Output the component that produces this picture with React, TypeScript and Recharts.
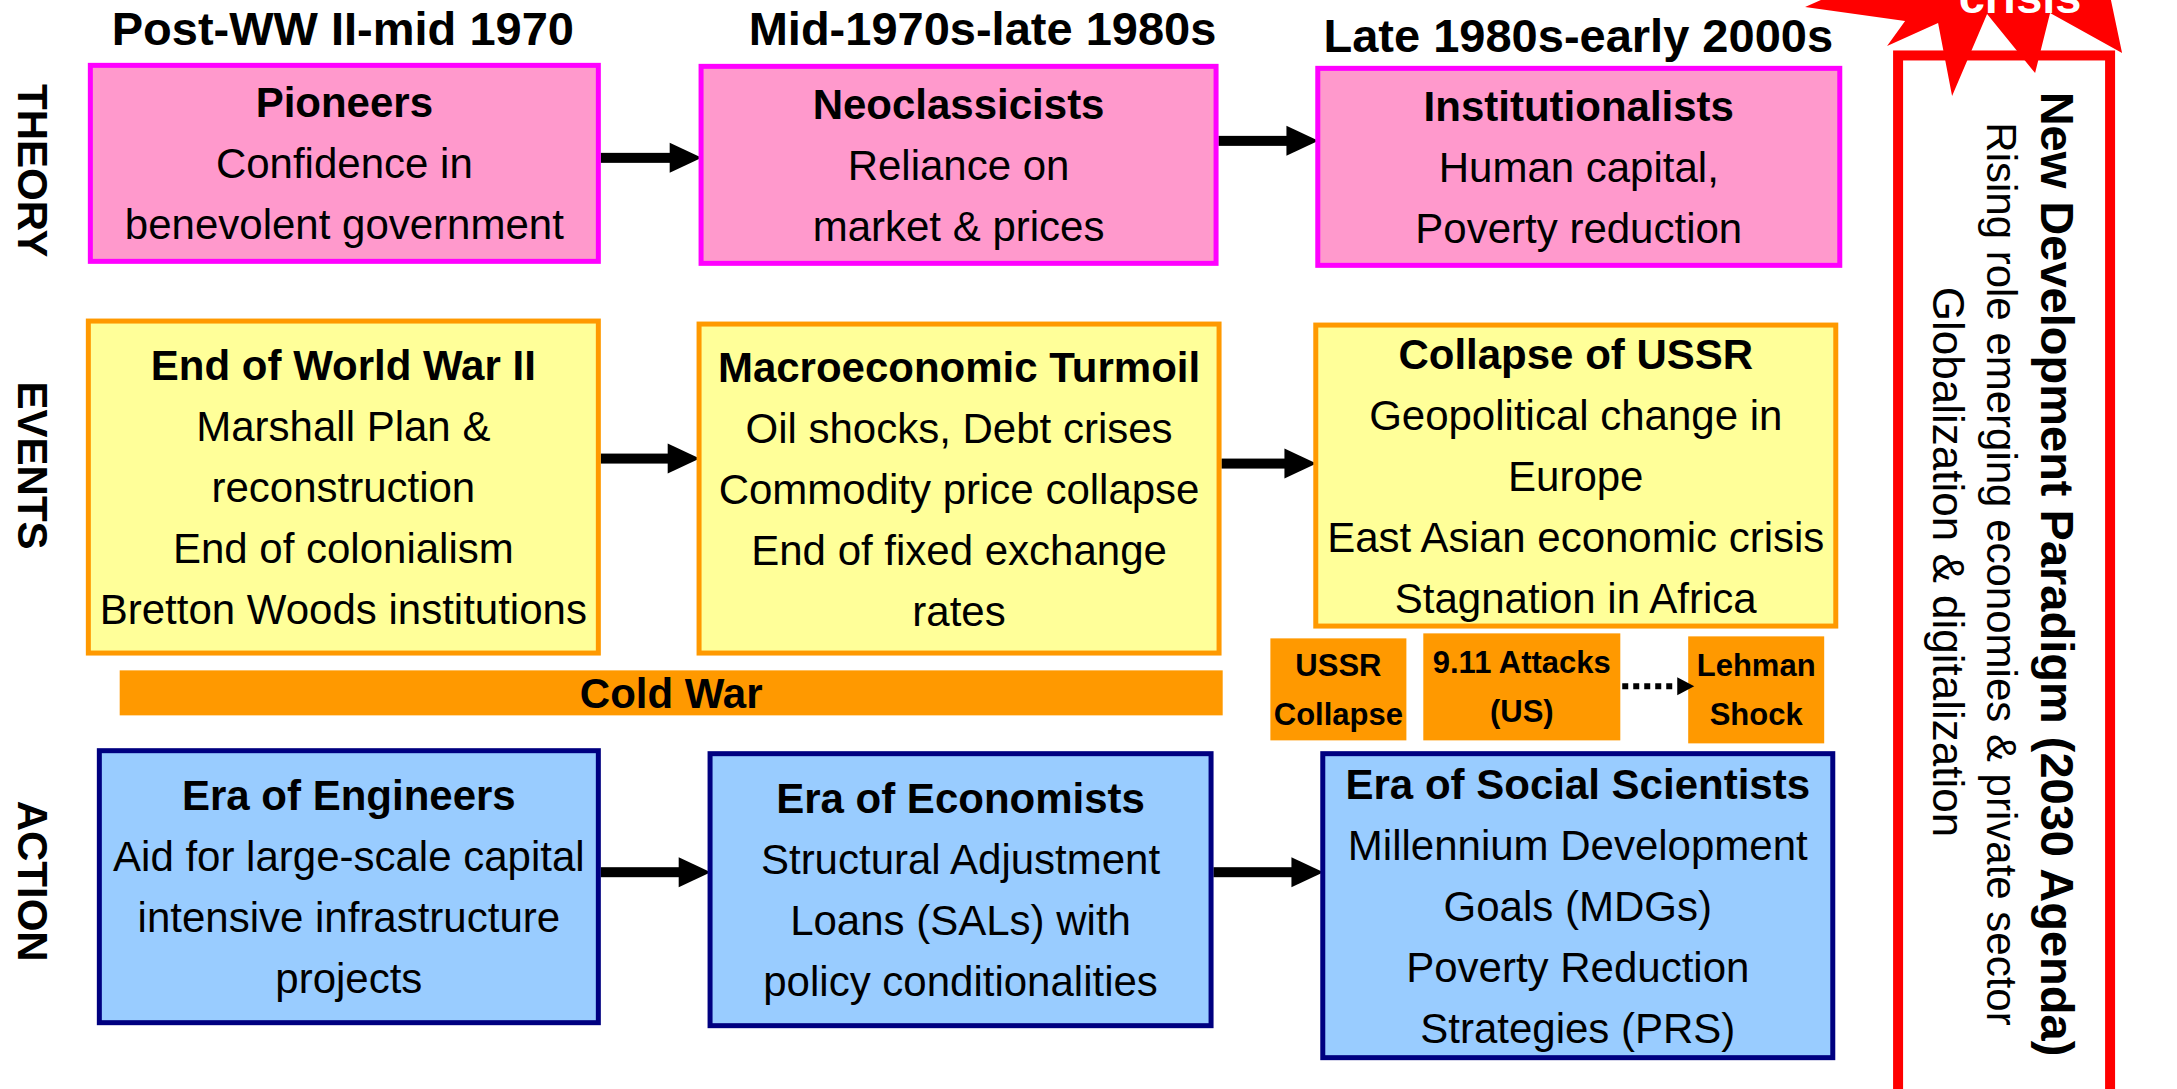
import React from "react";
import { ScatterChart, Scatter, XAxis, YAxis } from "recharts";

const W = 2177;
const H = 1089;
const FONT = "'Liberation Sans', Arial, Helvetica, sans-serif";

// ---- content ----
const periods = ["Post-WW II-mid 1970", "Mid-1970s-late 1980s", "Late 1980s-early 2000s"];
const rows = ["THEORY", "EVENTS", "ACTION"];

const theoryTitles = ["Pioneers", "Neoclassicists", "Institutionalists"];
const theoryLines = [
  ["Confidence in", "benevolent government"],
  ["Reliance on", "market & prices"],
  ["Human capital,", "Poverty reduction"],
];
const eventTitles = ["End of World War II", "Macroeconomic Turmoil", "Collapse of USSR"];
const eventLines = [
  ["Marshall Plan &", "reconstruction", "End of colonialism", "Bretton Woods institutions"],
  ["Oil shocks, Debt crises", "Commodity price collapse", "End of fixed exchange", "rates"],
  ["Geopolitical change in", "Europe", "East Asian economic crisis", "Stagnation in Africa"],
];
const actionTitles = ["Era of Engineers", "Era of Economists", "Era of Social Scientists"];
const actionLines = [
  ["Aid for large-scale capital", "intensive infrastructure", "projects"],
  ["Structural Adjustment", "Loans (SALs) with", "policy conditionalities"],
  ["Millennium Development", "Goals (MDGs)", "Poverty Reduction", "Strategies (PRS)"],
];
const shocks = [
  ["USSR", "Collapse"],
  ["9.11 Attacks", "(US)"],
  ["Lehman", "Shock"],
];
const coldWarLabel = "Cold War";
const paradigmTitle = "New Development Paradigm (2030 Agenda)";
const paradigmLines = ["Rising role emerging economies & private sector", "Globalization & digitalization"];
const crisisLabel = "crisis";

// ---- layout (the axes map this 2177 x 1089 frame about 1:1) ----
const titleX = [342, 982, 1578];
const titleBaseline = [45, 45, 52];
const rowLabelY = [170, 465, 881];
// [x0, x1, y0, y1] per row, per period
const boxRects = [
  [[87, 600, 62, 263], [698, 1218, 63, 265], [1315, 1842, 65, 267]],
  [[85, 600, 318, 655], [696, 1221, 321, 655], [1313, 1838, 322, 628]],
  [[96, 600, 748, 1025], [707, 1213, 751, 1028], [1320, 1835, 751, 1060]],
];
const arrowY = [[157, 140], [458, 463], [872, 872]];
const coldWarRect = [119, 1222, 670, 715];
const shockRects = [[1270, 1406, 638, 740], [1423, 1620, 633, 740], [1688, 1824, 636, 743]];
const shockArrowY = 686;
const frameRect = [1893, 2115, 50, 1120];
const paradigmBaseX = [2041, 1987, 1933];
const paradigmMidY = [574, 574, 562];
const starCenter = [2000, 40];
const starPoints = [
  [1805, 6], [1905, 20], [1887, 45], [1938, 22], [1952, 95], [1987, 13],
  [2035, 72], [2050, 12], [2122, 52], [2110, -5], [1830, -5],
];

const rowStyle = [
  { fill: "#FF99CC", stroke: "#FF00FF" },
  { fill: "#FFFF99", stroke: "#FF9900" },
  { fill: "#99CCFF", stroke: "#000080" },
];
const LINE = 61;

const boxTitles = [theoryTitles, eventTitles, actionTitles];
const boxBodies = [theoryLines, eventLines, actionLines];

const boxData = rows.flatMap((row, r) =>
  periods.map((period, c) => {
    const [x0, x1, y0, y1] = boxRects[r][c];
    return {
      x: (x0 + x1) / 2,
      y: (y0 + y1) / 2,
      w: x1 - x0,
      h: y1 - y0,
      row,
      period,
      title: boxTitles[r][c],
      lines: boxBodies[r][c],
      ...rowStyle[r],
    };
  })
);

const arrowData = rows.flatMap((row, r) =>
  [0, 1].map((c) => {
    const x0 = boxRects[r][c][1];
    const x1 = boxRects[r][c + 1][0] + 3;
    return { x: (x0 + x1) / 2, y: arrowY[r][c], len: x1 - x0, row };
  })
);

const coldWarData = [
  {
    x: (coldWarRect[0] + coldWarRect[1]) / 2,
    y: (coldWarRect[2] + coldWarRect[3]) / 2,
    w: coldWarRect[1] - coldWarRect[0],
    h: coldWarRect[3] - coldWarRect[2],
    label: coldWarLabel,
  },
];

const shockData = shocks.map((lines, i) => {
  const [x0, x1, y0, y1] = shockRects[i];
  return { x: (x0 + x1) / 2, y: (y0 + y1) / 2, w: x1 - x0, h: y1 - y0, lines };
});

const shockArrowData = [
  {
    x: (shockRects[1][1] + shockRects[2][0] + 6) / 2,
    y: shockArrowY,
    len: shockRects[2][0] + 6 - shockRects[1][1],
  },
];

const frameData = [
  {
    x: (frameRect[0] + frameRect[1]) / 2,
    y: (frameRect[2] + frameRect[3]) / 2,
    w: frameRect[1] - frameRect[0],
    h: frameRect[3] - frameRect[2],
    title: paradigmTitle,
    lines: paradigmLines,
  },
];

const starData = [{ x: starCenter[0], y: starCenter[1], label: crisisLabel }];

// ---- shapes ----
const BoxShape = (props: any) => {
  const { cx, cy, payload } = props;
  const { w, h, title, lines, fill, stroke } = payload;
  const all = [title, ...lines];
  const n = all.length;
  return (
    <g>
      <rect x={cx - w / 2 + 2.5} y={cy - h / 2 + 2.5} width={w - 5} height={h - 5} fill={fill} stroke={stroke} strokeWidth={5} />
      {all.map((t: string, i: number) => (
        <text
          key={i}
          x={cx}
          y={cy + (i - (n - 1) / 2) * LINE + 15}
          textAnchor="middle"
          fontFamily={FONT}
          fontSize={42}
          fontWeight={i === 0 ? 700 : 400}
          fill="#000"
        >
          {t}
        </text>
      ))}
    </g>
  );
};

const ArrowShape = (props: any) => {
  const { cx, cy, payload } = props;
  const x0 = cx - payload.len / 2;
  const x1 = cx + payload.len / 2;
  const hl = 32;
  return (
    <g>
      <rect x={x0} y={cy - 5} width={x1 - x0 - hl + 2} height={10} fill="#000" />
      <polygon points={`${x1 - hl},${cy - 15} ${x1},${cy} ${x1 - hl},${cy + 15}`} fill="#000" />
    </g>
  );
};

const DottedArrowShape = (props: any) => {
  const { cx, cy, payload } = props;
  const x0 = cx - payload.len / 2;
  const x1 = cx + payload.len / 2;
  const hl = 17;
  return (
    <g>
      <line x1={x0 + 2} y1={cy} x2={x1 - hl} y2={cy} stroke="#000" strokeWidth={6} strokeDasharray="6 5" />
      <polygon points={`${x1 - hl},${cy - 9} ${x1},${cy} ${x1 - hl},${cy + 9}`} fill="#000" />
    </g>
  );
};

const ColdWarShape = (props: any) => {
  const { cx, cy, payload } = props;
  return (
    <g>
      <rect x={cx - payload.w / 2} y={cy - payload.h / 2} width={payload.w} height={payload.h} fill="#FF9900" />
      <text x={cx} y={cy + 15} textAnchor="middle" fontFamily={FONT} fontSize={42} fontWeight={700} fill="#000">
        {payload.label}
      </text>
    </g>
  );
};

const ShockShape = (props: any) => {
  const { cx, cy, payload } = props;
  return (
    <g>
      <rect x={cx - payload.w / 2} y={cy - payload.h / 2} width={payload.w} height={payload.h} fill="#FF9900" />
      {payload.lines.map((t: string, i: number) => (
        <text
          key={i}
          x={cx}
          y={cy + (i - 0.5) * 49 + 11}
          textAnchor="middle"
          fontFamily={FONT}
          fontSize={31}
          fontWeight={700}
          fill="#000"
        >
          {t}
        </text>
      ))}
    </g>
  );
};

const FrameShape = (props: any) => {
  const { cx, cy, payload } = props;
  const all = [payload.title, ...payload.lines];
  return (
    <g>
      <rect x={cx - payload.w / 2 + 5} y={cy - payload.h / 2 + 5} width={payload.w - 10} height={payload.h - 10} fill="#FFFFFF" stroke="#FF0000" strokeWidth={10} />
      {all.map((t: string, i: number) => (
        <text
          key={i}
          transform={`translate(${paradigmBaseX[i]}, ${paradigmMidY[i]}) rotate(90)`}
          textAnchor="middle"
          fontFamily={FONT}
          fontSize={i === 0 ? 47 : i === 2 ? 44 : 42}
          fontWeight={i === 0 ? 700 : 400}
          fill="#000"
        >
          {t}
        </text>
      ))}
    </g>
  );
};

const StarShape = (props: any) => {
  const { cx, cy, payload } = props;
  const pts = starPoints.map(([px, py]) => `${px - starCenter[0] + cx},${py - starCenter[1] + cy}`).join(" ");
  return (
    <g>
      <polygon points={pts} fill="#FF0000" />
      <text x={cx + 20} y={cy - 28} textAnchor="middle" fontFamily={FONT} fontSize={47} fontWeight={700} fill="#FFFFFF">
        {payload.label}
      </text>
    </g>
  );
};

const PeriodTick = (props: any) => {
  const { x, payload } = props;
  const i = titleX.indexOf(payload.value);
  if (i < 0) return <g />;
  return (
    <text x={x} y={titleBaseline[i]} textAnchor="middle" fontFamily={FONT} fontSize={47} fontWeight={700} fill="#000">
      {periods[i]}
    </text>
  );
};

const RowTick = (props: any) => {
  const { y, payload } = props;
  const i = rowLabelY.indexOf(payload.value);
  if (i < 0) return <g />;
  return (
    <text transform={`translate(18, ${y}) rotate(90)`} textAnchor="middle" fontFamily={FONT} fontSize={42} fontWeight={700} fill="#000">
      {rows[i]}
    </text>
  );
};

export default function App() {
  return (
    <div style={{ position: "absolute", left: 0, top: 0, width: W, height: H, background: "#fff" }}>
      <ScatterChart width={W} height={H} margin={{ top: 0, right: 0, bottom: 0, left: 0 }}>
        <XAxis
          type="number"
          dataKey="x"
          orientation="top"
          domain={[0, W]}
          ticks={titleX}
          interval={0}
          height={1}
          axisLine={false}
          tickLine={false}
          tick={PeriodTick}
        />
        <YAxis
          type="number"
          dataKey="y"
          domain={[0, H]}
          reversed
          ticks={rowLabelY}
          interval={0}
          width={1}
          axisLine={false}
          tickLine={false}
          tick={RowTick}
        />
        <Scatter data={coldWarData} shape={ColdWarShape} isAnimationActive={false} />
        <Scatter data={shockData} shape={ShockShape} isAnimationActive={false} />
        <Scatter data={shockArrowData} shape={DottedArrowShape} isAnimationActive={false} />
        <Scatter data={arrowData} shape={ArrowShape} isAnimationActive={false} />
        <Scatter data={boxData} shape={BoxShape} isAnimationActive={false} />
        <Scatter data={frameData} shape={FrameShape} isAnimationActive={false} />
        <Scatter data={starData} shape={StarShape} isAnimationActive={false} />
      </ScatterChart>
    </div>
  );
}
